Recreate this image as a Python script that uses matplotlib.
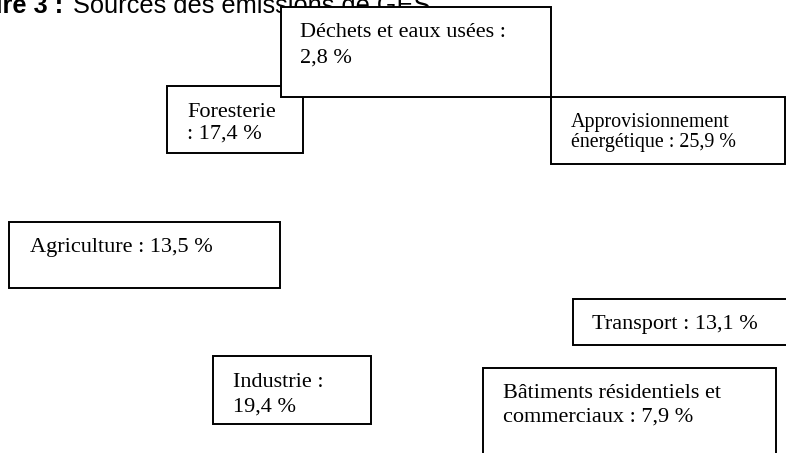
import textwrap
import matplotlib
matplotlib.use("Agg")
import matplotlib.pyplot as plt
from matplotlib.patches import Rectangle

# Sources des émissions de GES (%)
categories = [
    "Foresterie",
    "Déchets et eaux usées",
    "Approvisionnement énergétique",
    "Agriculture",
    "Transport",
    "Industrie",
    "Bâtiments résidentiels et commerciaux",
]
shares = [17.4, 2.8, 25.9, 13.5, 13.1, 19.4, 7.9]

title_num = "Figure 3 :"
title_text = "Sources des émissions de GES"

# box position in pixels (x0, y0, x1, y1), text x, first baseline, line gap, wrap width, font size
layout = {
    "Foresterie": ((167, 86, 303, 153), 187, 117, 22, 10, 16),
    "Déchets et eaux usées": ((281, 7, 551, 97), 300, 37, 26, 23, 16),
    "Approvisionnement énergétique": ((551, 97, 785, 164), 571, 127, 20, 20, 14.4),
    "Agriculture": ((9, 222, 280, 288), 30, 252, 22, 40, 16),
    "Transport": ((573, 299, 800, 345), 592, 329, 22, 40, 16),
    "Industrie": ((213, 356, 371, 424), 233, 387, 25, 11, 16),
    "Bâtiments résidentiels et commerciaux": ((483, 368, 776, 470), 503, 398, 24, 25, 16),
}

fig = plt.figure(figsize=(7.86, 4.53), dpi=100)
ax = fig.add_axes([0, 0, 1, 1])
ax.set_xlim(0, 786)
ax.set_ylim(453, 0)
ax.axis("off")

# title (partly hidden by the first box, as in the source)
ax.text(63, 13, title_num, ha="right", va="baseline", fontsize=18.3,
        fontweight="bold", family="Liberation Sans", zorder=1)
ax.text(73, 13, title_text, ha="left", va="baseline", fontsize=18.3,
        family="Liberation Sans", zorder=1)

for i, (cat, val) in enumerate(zip(categories, shares)):
    (x0, y0, x1, y1), tx, base, gap, width, fs = layout[cat]
    ax.add_patch(Rectangle((x0, y0), x1 - x0, y1 - y0, facecolor="white",
                           edgecolor="black", linewidth=1.4, zorder=2 + 2 * i))
    label = f"{cat} : {str(val).replace('.', ',')} %"
    for j, line in enumerate(textwrap.fill(label, width).split("\n")):
        ax.text(tx, base + j * gap, line, va="baseline", ha="left",
                fontsize=fs, family="Liberation Serif", zorder=3 + 2 * i)

fig.savefig("out.png", dpi=100)
